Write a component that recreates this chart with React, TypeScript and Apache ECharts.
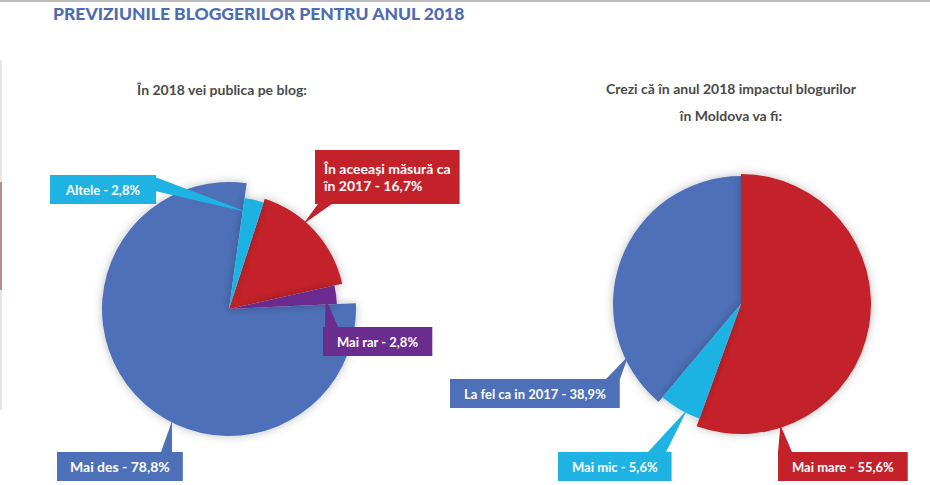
import React, { useEffect, useRef } from "react";
import * as echarts from "echarts";

const titleText = "PREVIZIUNILE BLOGGERILOR PENTRU ANUL 2018";
const leftTitle = "În 2018 vei publica pe blog:";
const rightTitle = "Crezi că în anul 2018 impactul blogurilor\nîn Moldova va fi:";

const leftCategories = ["Altele", "În aceeași măsură ca\nîn 2017", "Mai rar", "Mai des"];
const leftValues = [2.8, 16.7, 2.8, 78.8];
const rightCategories = ["Mai mare", "Mai mic", "La fel ca in 2017"];
const rightValues = [55.6, 5.6, 38.9];

const BLUE = "#4e70b8";
const RED = "#c4222a";
const CYAN = "#1fb3e3";
const PURPLE = "#6a2c8e";
const FONT = "Lato, 'Open Sans', sans-serif";

// layout (not data)
const leftCenter = [229, 309];
const leftStart = 82;
const leftColors = [CYAN, RED, PURPLE, BLUE];
const leftRadii = [112, 116, 108, 127];
const leftBoxes = [[50, 175], [315, 150], [323, 327], [57, 452]];
const leftPads = [[6, 16], [10, 9], [6, 14], [6, 13]];
const leftFont = [13, 14, 13, 14];
const leftLine = [17, 17, 17, 17];
const leftTips = [[0.35, 0.88], [0.39, 0.97], [0.6, 0.9], [0.426, 0.99]];
const leftBases = [[[105, 2], [105, 16]], [[3, 54], [17, 54]], [[2, 0], [15, 0]], [[104, 0], [115, 0]]];
const leftDraw = [3, 1, 0, 2];

const rightCenter = [741, 304];
const rightStart = 90;
const rightColors = [RED, CYAN, BLUE];
const rightRadii = [130, 122, 128];
const rightBoxes = [[778, 452], [558, 452], [450, 379]];
const rightPads = [[6, 14], [6, 14], [6, 14]];
const rightFont = [13, 13, 13];
const rightLine = [17, 17, 17];
const rightTips = [[0.81, 0.98], [0.35, 0.97], [0.18, 0.97]];
const rightBases = [[[0, 0], [14, 0]], [[90, 0], [108, 0]], [[156, 0], [170, 0]]];
const rightDraw = [2, 0, 1];

function fmt(v: number) {
  return v.toFixed(1).replace(".", ",") + "%";
}

function makeSeries(
  cats: string[], vals: number[], colors: string[], radii: number[],
  boxes: number[][], pads: number[][], fonts: number[], lines: number[],
  center: number[], startAngle: number, order: number[]
) {
  return order.map((k, idx) => ({
    type: "pie",
    z: 2 + idx,
    silent: true,
    center,
    radius: [0, radii[k]],
    startAngle,
    clockwise: true,
    avoidLabelOverlap: false,
    data: cats.map((c, j) => ({
      name: c,
      value: vals[j],
      itemStyle: j === k
        ? { color: colors[j], shadowBlur: 10, shadowColor: "rgba(0,0,0,0.25)" }
        : { color: "rgba(0,0,0,0)" },
      label: j === k
        ? {
            show: true,
            position: "outside",
            formatter: (p: any) => `${p.name} - ${fmt(p.value)}`,
            color: "#fff",
            fontFamily: FONT,
            fontWeight: "bold",
            fontSize: fonts[j],
            lineHeight: lines[j],
            align: "center",
            backgroundColor: colors[j],
            padding: pads[j],
          }
        : { show: false },
      labelLine: { show: false },
    })),
    labelLayout: (p: any) => {
      const b = boxes[p.dataIndex];
      return { x: b[0], y: b[1], align: "left", verticalAlign: "top" };
    },
  }));
}

function makeWedges(
  vals: number[], colors: string[], radii: number[], center: number[], startAngle: number,
  tips: number[][], boxes: number[][], bases: number[][][]
) {
  const sum = vals.reduce((a, b) => a + b, 0);
  let cum = 0;
  return vals.map((v, j) => {
    const a0 = 90 - startAngle + (cum / sum) * 360;
    const span = (v / sum) * 360;
    cum += v;
    const a = ((a0 + tips[j][0] * span) * Math.PI) / 180;
    const r = radii[j] * tips[j][1];
    const tip = [center[0] + r * Math.sin(a), center[1] - r * Math.cos(a)];
    const b = boxes[j];
    const p1 = [b[0] + bases[j][0][0], b[1] + bases[j][0][1]];
    const p2 = [b[0] + bases[j][1][0], b[1] + bases[j][1][1]];
    return {
      type: "polygon",
      z: 50,
      silent: true,
      shape: { points: [tip, p1, p2] },
      style: { fill: colors[j] },
    };
  });
}

export default function App() {
  const ref = useRef<HTMLDivElement>(null);
  useEffect(() => {
    if (!ref.current) return;
    const chart = echarts.init(ref.current, null, { renderer: "svg" });
    chart.setOption({
      animation: false,
      backgroundColor: "#fff",
      title: [
        {
          text: titleText, left: 53, top: 4, padding: 0,
          textStyle: { color: "#4d6cb2", fontFamily: FONT, fontWeight: 900, fontSize: 17.5 },
        },
        {
          text: leftTitle, left: 222, top: 82, padding: 0, textAlign: "center",
          textStyle: { color: "#4a4a4a", fontFamily: FONT, fontWeight: "bold", fontSize: 14 },
        },
        {
          text: rightTitle, left: 731, top: 75, padding: 0, textAlign: "center",
          textStyle: { color: "#4a4a4a", fontFamily: FONT, fontWeight: "bold", fontSize: 14, lineHeight: 27 },
        },
      ],
      graphic: [
        { type: "rect", shape: { x: 0, y: 0, width: 930, height: 2 }, style: { fill: "#bdbdbd" } },
        { type: "rect", shape: { x: 0, y: 60, width: 2, height: 350 }, style: { fill: "#e6e6e6" } },
        { type: "rect", shape: { x: 0, y: 182, width: 2, height: 108 }, style: { fill: "#b98d8d" } },
        ...makeWedges(leftValues, leftColors, leftRadii, leftCenter, leftStart, leftTips, leftBoxes, leftBases),
        ...makeWedges(rightValues, rightColors, rightRadii, rightCenter, rightStart, rightTips, rightBoxes, rightBases),
      ],
      series: [
        ...makeSeries(leftCategories, leftValues, leftColors, leftRadii, leftBoxes, leftPads, leftFont, leftLine, leftCenter, leftStart, leftDraw),
        ...makeSeries(rightCategories, rightValues, rightColors, rightRadii, rightBoxes, rightPads, rightFont, rightLine, rightCenter, rightStart, rightDraw),
      ],
    });
    return () => chart.dispose();
  }, []);
  return <div ref={ref} style={{ position: "fixed", left: 0, top: 0, width: 930, height: 485 }} />;
}
